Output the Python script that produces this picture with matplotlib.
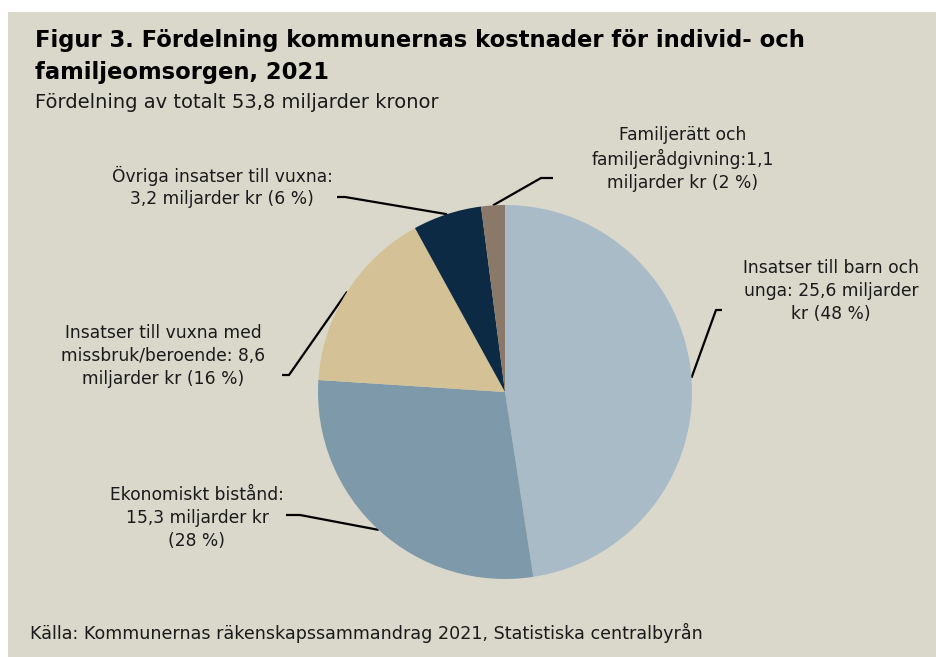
import numpy as np
import matplotlib
matplotlib.use("Agg")
import matplotlib.pyplot as plt
from matplotlib.patches import Rectangle

categories = [
    "Insatser till barn och\nunga: 25,6 miljarder\nkr (48 %)",
    "Ekonomiskt bistånd:\n15,3 miljarder kr\n(28 %)",
    "Insatser till vuxna med\nmissbruk/beroende: 8,6\nmiljarder kr (16 %)",
    "Övriga insatser till vuxna:\n3,2 miljarder kr (6 %)",
    "Familjerätt och\nfamiljerådgivning:1,1\nmiljarder kr (2 %)",
]
values = [25.6, 15.3, 8.6, 3.2, 1.1]
colors = ["#a8bbc6", "#7e99aa", "#d4c195", "#0c2a43", "#8a7868"]

title = "Figur 3. Fördelning kommunernas kostnader för individ- och\nfamiljeomsorgen, 2021"
subtitle = "Fördelning av totalt 53,8 miljarder kronor"
source = "Källa: Kommunernas räkenskapssammandrag 2021, Statistiska centralbyrån"

W, H = 936, 657
fig = plt.figure(figsize=(W / 100, H / 100), dpi=100)
fig.patch.set_facecolor("white")
ax = fig.add_axes([0, 0, 1, 1])
ax.set_xlim(0, W)
ax.set_ylim(H, 0)
ax.axis("off")

ax.add_patch(Rectangle((8, 12), W - 8, H - 12, facecolor="#dad8cb", edgecolor="none", zorder=0))

# pie in its own axes (pixel coords, y up)
pax = fig.add_axes([0, 0, 1, 1])
pax.set_xlim(0, W)
pax.set_ylim(0, H)
pax.axis("off")
cx, cy, r = 505, H - 392, 187
wedges, _ = pax.pie(values, colors=colors, startangle=90, counterclock=False,
                    center=(cx, cy), radius=r, frame=True,
                    wedgeprops=dict(linewidth=0))
pax.set_xlim(0, W)
pax.set_ylim(0, H)
pax.axis("off")
pax.set_aspect("equal")

# label layout: (elbow x, elbow y, end x, text x, text y, ha)  in pixel coords (y down)
layout = [
    (716, 310, 722, 831, 291, "center"),
    (300, 515, 286, 197, 518, "center"),
    (289, 375, 282, 163, 356, "center"),
    (345, 197, 337, 222, 187, "center"),
    (541, 178, 553, 683, 159, "center"),
]

for w, lab, (ex, ey, tx, lx, ly, ha) in zip(wedges, categories, layout):
    ang = np.deg2rad((w.theta1 + w.theta2) / 2)
    sx = cx + r * np.cos(ang)
    sy = H - (cy + r * np.sin(ang))
    ax.plot([sx, ex, tx], [sy, ey, ey], color="black", lw=1.6, zorder=5,
            solid_capstyle="butt")
    ax.text(lx, ly, lab, ha=ha, va="center", fontsize=12.3, linespacing=1.34,
            color="#1a1a1a", family="DejaVu Sans", zorder=6)

ax.text(35, 56, title, ha="left", va="center", fontsize=16.3, fontweight="bold",
        linespacing=1.5, color="black", family="DejaVu Sans")
ax.text(35, 103, subtitle, ha="left", va="center", fontsize=14, color="#1a1a1a",
        family="DejaVu Sans")
ax.text(30, 633, source, ha="left", va="center", fontsize=12.6, color="#1a1a1a",
        family="DejaVu Sans")

fig.savefig("out.png", dpi=100, facecolor=fig.get_facecolor())
